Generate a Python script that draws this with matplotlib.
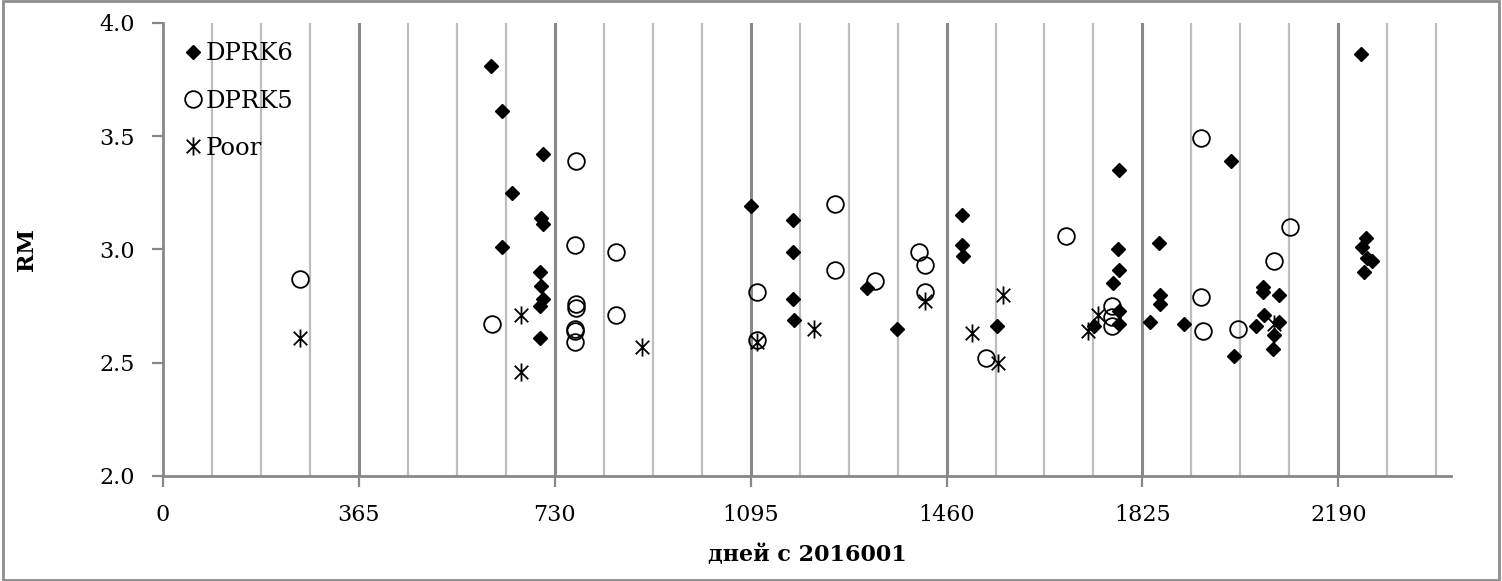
import numpy as np
import matplotlib.pyplot as plt
from matplotlib.path import Path
from matplotlib.patches import Rectangle

# days since 2016001 and RM values
dprk6_day = [611, 631, 651, 631, 709, 705, 708, 703, 705, 708, 703, 703,
             1096, 1173, 1173, 1173, 1176, 1311, 1367,
             1489, 1489, 1491, 1554,
             1734, 1770, 1781, 1780, 1782, 1782, 1782,
             1839, 1855, 1858, 1858, 1903,
             1990, 1996, 2036, 2049, 2049, 2051, 2068, 2070, 2079, 2079,
             2232, 2241, 2235, 2244, 2252, 2237]
dprk6_rm = [3.81, 3.61, 3.25, 3.01, 3.42, 3.14, 3.11, 2.90, 2.84, 2.78, 2.75, 2.61,
            3.19, 3.13, 2.99, 2.78, 2.69, 2.83, 2.65,
            3.15, 3.02, 2.97, 2.66,
            2.66, 2.85, 3.35, 3.00, 2.91, 2.73, 2.67,
            2.68, 3.03, 2.80, 2.76, 2.67,
            3.39, 2.53, 2.66, 2.835, 2.81, 2.71, 2.56, 2.62, 2.80, 2.68,
            3.86, 3.05, 3.01, 2.96, 2.95, 2.90]

dprk5_day = [255, 613, 770, 768, 770, 770, 768, 768, 768, 844, 844,
             1107, 1107, 1253, 1253, 1327,
             1408, 1420, 1420, 1533,
             1682, 1768, 1768, 1769, 1935, 1935, 1937, 2003, 2070, 2100]
dprk5_rm = [2.87, 2.67, 3.39, 3.02, 2.76, 2.74, 2.65, 2.64, 2.59, 2.99, 2.71,
            2.81, 2.60, 3.20, 2.91, 2.86,
            2.99, 2.93, 2.81, 2.52,
            3.06, 2.75, 2.70, 2.66, 3.49, 2.79, 2.64, 2.65, 2.95, 3.10]

poor_day = [255, 668, 668, 892, 1107, 1213, 1420, 1507, 1555, 1566, 1723, 1743, 2070]
poor_rm = [2.61, 2.71, 2.46, 2.57, 2.59, 2.65, 2.77, 2.63, 2.50, 2.80, 2.64, 2.71, 2.67]

year_ticks = [0, 365, 730, 1095, 1460, 1825, 2190]

plt.rcParams['font.family'] = ['DejaVu Serif']

# Excel-like star: vertical bar plus an X
star = Path([(0, -1), (0, 1), (-0.75, -0.75), (0.75, 0.75), (-0.75, 0.75), (0.75, -0.75)],
            [Path.MOVETO, Path.LINETO] * 3)

fig = plt.figure(figsize=(15.02, 5.81), dpi=100)
ax = fig.add_axes([163 / 1502, 1 - 476 / 581, (1451 - 163) / 1502, (476 - 22.7) / 581])

# quarter grid lines (light) and year lines (darker)
for q in np.arange(91.25, 2400, 91.25):
    yr = abs(q / 365 - round(q / 365)) < 1e-6
    ax.axvline(q, color='#888888' if yr else '#bdbdbd', lw=2.2 if yr else 1.6, zorder=0)

ax.plot(dprk6_day, dprk6_rm, ls='none', marker='D', ms=7.5, color='black', label='DPRK6', zorder=3)
ax.plot(dprk5_day, dprk5_rm, ls='none', marker='o', ms=12, mfc='none', mec='black', mew=1.3,
        label='DPRK5', zorder=4)
ax.plot(poor_day, poor_rm, ls='none', marker=star, ms=13, mec='black', mew=1.3, color='black',
        label='Poor', zorder=5)

ax.set_xlim(0, 2400)
ax.set_ylim(2.0, 4.0)
ax.set_xticks(year_ticks)
ax.set_yticks([2.0, 2.5, 3.0, 3.5, 4.0])
ax.set_yticklabels(['2.0', '2.5', '3.0', '3.5', '4.0'])

for s in ['top', 'right']:
    ax.spines[s].set_visible(False)
for s in ['left', 'bottom']:
    ax.spines[s].set_color('#888888')
    ax.spines[s].set_linewidth(2)
ax.tick_params(axis='both', colors='#888888', labelcolor='black', labelsize=16,
               length=8, width=1.6, pad=12, direction='out')

ax.set_xlabel('дней с 2016001', fontsize=16, fontweight='bold', labelpad=13)
ax.set_ylabel('RM', fontsize=16, fontweight='bold', labelpad=44)

ax.legend(loc='upper left', bbox_to_anchor=(0.008, 0.978), frameon=False, fontsize=17.5,
          handlelength=0.8, handletextpad=0.15, labelspacing=1.0, borderaxespad=0)

fig.patches.append(Rectangle((0.002, 0.002), 0.996, 0.996, transform=fig.transFigure,
                             fill=False, edgecolor='#8c8c8c', lw=2))

fig.savefig('out.png', dpi=100)
